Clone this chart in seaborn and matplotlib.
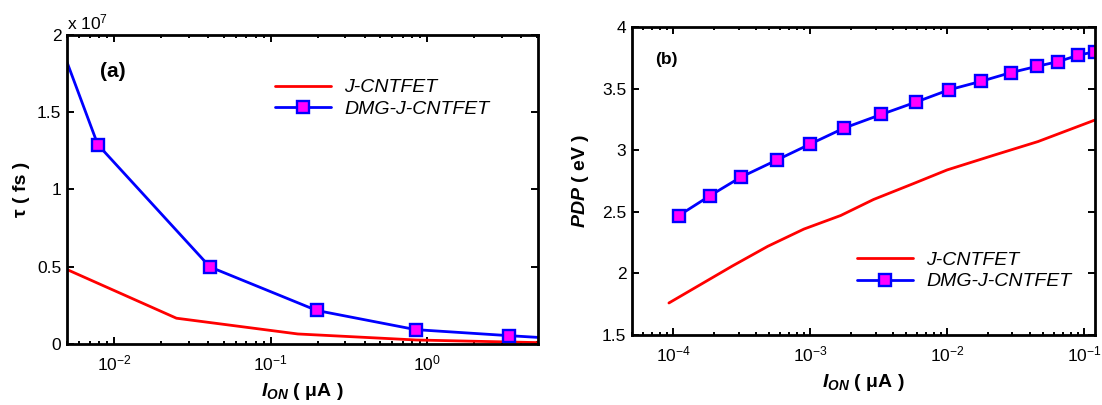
import matplotlib
matplotlib.use("Agg")
import matplotlib.pyplot as plt
import matplotlib.ticker as mticker
import seaborn as sns
import numpy as np

# ---------------- data ----------------
# (a) delay tau (fs) vs I_ON (uA)
a_j_ion = [0.005, 0.025, 0.149, 0.85, 5.1]
a_j_tau = [0.482e7, 0.167e7, 0.065e7, 0.026e7, 0.009e7]
a_dmg_ion = [0.0042, 0.00786, 0.0409, 0.197, 0.845, 3.33, 8.0]
a_dmg_tau = [2.03e7, 1.291e7, 0.499e7, 0.217e7, 0.093e7, 0.054e7, 0.031e7]
a_yticks = [0, 0.5e7, 1.0e7, 1.5e7, 2.0e7]

# (b) PDP (eV) vs I_ON (uA)
b_j_ion = [9.3e-5, 2.7e-4, 4.9e-4, 9.0e-4, 1.67e-3, 2.9e-3, 5.7e-3, 1.0e-2, 2.2e-2, 4.6e-2, 0.12]
b_j_pdp = [1.76, 2.06, 2.22, 2.36, 2.47, 2.60, 2.73, 2.84, 2.96, 3.07, 3.245]
b_dmg_ion = [1.1e-4, 1.85e-4, 3.1e-4, 5.7e-4, 1.0e-3, 1.77e-3, 3.3e-3, 5.9e-3,
             1.03e-2, 1.78e-2, 2.92e-2, 4.5e-2, 6.5e-2, 9.0e-2, 0.12]
b_dmg_pdp = [2.47, 2.63, 2.78, 2.92, 3.05, 3.18, 3.29, 3.39,
             3.49, 3.56, 3.63, 3.68, 3.72, 3.77, 3.80]
b_yticks = [1.5, 2, 2.5, 3, 3.5, 4]

series_labels = ["J-CNTFET", "DMG-J-CNTFET"]

# ---------------- style ----------------
sns.set_theme(style="ticks")
plt.rcParams["font.family"] = ["Liberation Sans", "DejaVu Sans"]
plt.rcParams["text.color"] = "black"
plt.rcParams["axes.labelcolor"] = "black"
plt.rcParams["xtick.color"] = "black"
plt.rcParams["ytick.color"] = "black"
plt.rcParams["mathtext.fontset"] = "custom"
plt.rcParams["mathtext.it"] = "Liberation Sans:italic:bold"
plt.rcParams["mathtext.rm"] = "Liberation Sans:bold"
plt.rcParams["mathtext.bf"] = "Liberation Sans:bold"

fig = plt.figure(figsize=(11.02, 4.05), dpi=100)
ax1 = fig.add_axes([0.0608, 0.1506, 0.4274, 0.763])
ax2 = fig.add_axes([0.5735, 0.1728, 0.4201, 0.7605])

red_kw = dict(color="#FF0000", linewidth=2.0)
blue_kw = dict(color="#0000FF", linewidth=2.0, marker="s", markersize=8,
               markerfacecolor="#FF00FF", markeredgecolor="#0000FF",
               markeredgewidth=1.7)

sns.lineplot(x=a_j_ion, y=a_j_tau, ax=ax1, label=series_labels[0], sort=False, **red_kw)
sns.lineplot(x=a_dmg_ion, y=a_dmg_tau, ax=ax1, label=series_labels[1], sort=False, **blue_kw)
sns.lineplot(x=b_j_ion, y=b_j_pdp, ax=ax2, label=series_labels[0], sort=False, **red_kw)
sns.lineplot(x=b_dmg_ion, y=b_dmg_pdp, ax=ax2, label=series_labels[1], sort=False, **blue_kw)

for ax in (ax1, ax2):
    ax.set_xscale("log")
    ax.xaxis.set_major_locator(mticker.LogLocator(base=10))
    ax.xaxis.set_minor_locator(mticker.LogLocator(base=10, subs=np.arange(2, 10)))
    ax.xaxis.set_minor_formatter(mticker.NullFormatter())
    ax.tick_params(which="both", direction="in", top=True, right=True,
                   colors="black", labelcolor="black", labelsize=12.5, width=1.4)
    ax.tick_params(which="major", length=5)
    ax.tick_params(which="minor", length=2.5)
    ax.tick_params(axis="x", which="major", pad=7)
    ax.tick_params(axis="y", which="major", pad=4)
    for s in ax.spines.values():
        s.set_linewidth(2.0)
        s.set_color("black")
        s.set_visible(True)
    ax.set_xlabel(r"$I_{ON}$ ( μA )", fontsize=14, fontweight="bold", labelpad=5,
                  color="black")

ax1.set_xlim(0.005, 5.1)
ax1.set_ylim(0, 2e7)
ax1.set_yticks(a_yticks)
ax1.yaxis.set_major_formatter(mticker.FuncFormatter(lambda v, p: "%g" % (v / 1e7)))
ax1.set_ylabel("τ ( fs )", fontsize=14, fontweight="bold", labelpad=5, color="black")
ax1.text(0.0, 1.01, r"x $\mathdefault{10^{7}}$", transform=ax1.transAxes,
         fontsize=12.5, ha="left", va="bottom", color="black")
ax1.text(0.098, 0.881, "(a)", transform=ax1.transAxes, fontsize=15,
         fontweight="bold", ha="center", va="center", color="black")

ax2.set_xlim(5.0e-5, 0.12)
ax2.set_ylim(1.5, 4)
ax2.set_yticks(b_yticks)
ax2.yaxis.set_major_formatter(mticker.FuncFormatter(lambda v, p: "%g" % v))
ax2.set_ylabel(r"$PDP$ ( eV )", fontsize=14, fontweight="bold", labelpad=8, color="black")
ax2.text(0.075, 0.893, "(b)", transform=ax2.transAxes, fontsize=12.5,
         fontweight="bold", ha="center", va="center", color="black")

leg_kw = dict(frameon=False, handlelength=2.9, handletextpad=0.65,
              labelspacing=0.2, borderpad=0, borderaxespad=0,
              loc="upper left", prop={"style": "italic", "size": 14},
              labelcolor="black")
ax1.legend(bbox_to_anchor=(0.4416, 0.858), **leg_kw)
ax2.legend(bbox_to_anchor=(0.486, 0.272), **leg_kw)

fig.savefig("out.png", dpi=100)
